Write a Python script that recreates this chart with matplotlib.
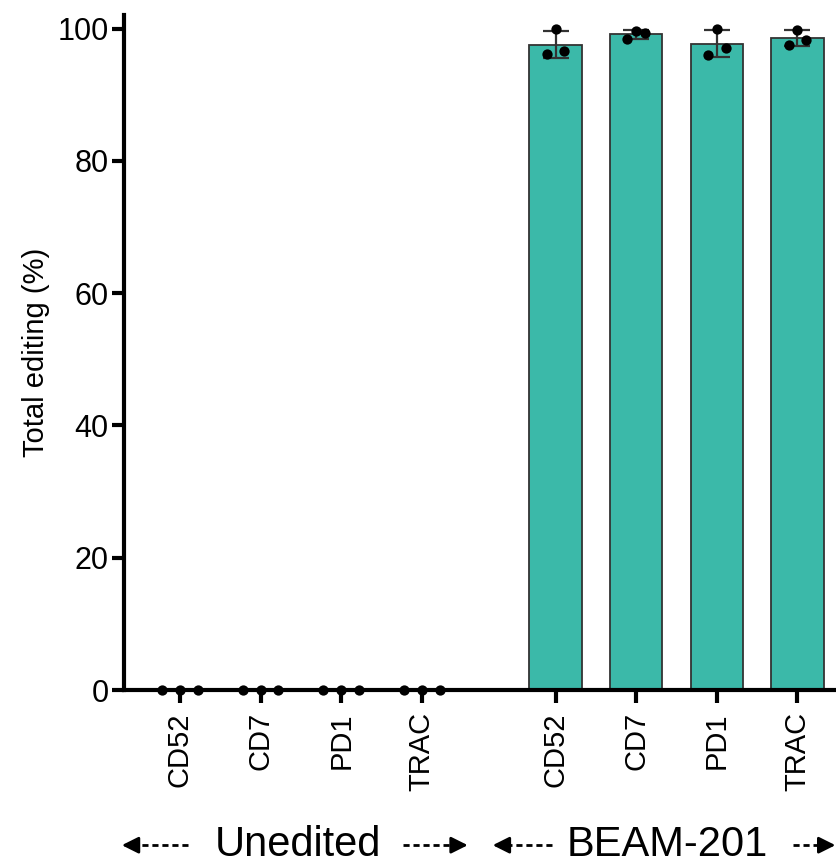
import numpy as np
import matplotlib
matplotlib.use("Agg")
import matplotlib.pyplot as plt

plt.rcParams["font.family"] = ["Liberation Sans", "DejaVu Sans"]

# data
genes = ["CD52", "CD7", "PD1", "TRAC"]
groups = ["Unedited", "BEAM-201"]
unedited = [[0, 0, 0], [0, 0, 0], [0, 0, 0], [0, 0, 0]]
beam201 = [[96.2, 99.95, 96.6], [98.4, 99.6, 99.4], [96.0, 100.0, 97.1], [97.5, 99.85, 98.3]]

bar_color = "#3BB9A9"
edge = "#333333"

gap = 1.66
x_un = np.arange(4)
x_beam = np.arange(4) + 3 + gap

fig = plt.figure(figsize=(8.37, 8.65), dpi=100)
ax = fig.add_axes([0.148, 0.2023, 0.852, 0.780])

def draw_group(ax, xs, vals, spread):
    for x, v in zip(xs, vals):
        v = np.array(v)
        m = v.mean()
        sd = v.std(ddof=1)
        if m > 0:
            ax.bar(x, m, width=0.65, color=bar_color, edgecolor=edge, linewidth=1.3, zorder=2)
            ax.errorbar(x, m, yerr=sd, fmt="none", ecolor=edge, elinewidth=1.6,
                        capsize=9.5, capthick=1.6, zorder=3)
        ax.scatter(x + np.array([-spread, 0, spread]), v, s=55, color="black",
                   zorder=5, clip_on=False, linewidths=0)

draw_group(ax, x_un, unedited, 0.22)
draw_group(ax, x_beam, beam201, 0.11)

ax.set_xlim(-0.695, 8.15)
ax.set_ylim(0, 102)
ax.set_yticks([0, 20, 40, 60, 80, 100])
ax.set_xticks(np.concatenate([x_un, x_beam]))
ax.set_xticklabels(genes + genes, rotation=90)

for s in ["top", "right"]:
    ax.spines[s].set_visible(False)
for s in ["left", "bottom"]:
    ax.spines[s].set_linewidth(3)
ax.tick_params(axis="both", width=3, length=9)
ax.tick_params(axis="x", pad=7, labelsize=21)
ax.tick_params(axis="y", pad=2, labelsize=22)
ax.set_ylabel("Total editing (%)", fontsize=21, labelpad=5)

# group labels with dashed arrows
tr = ax.get_xaxis_transform()
ylev = -0.23

def dashed_arrow(x0, x1):
    # x0: tail, x1: tip
    d = x1 - x0
    head = 0.17 * np.sign(d)
    ax.plot([x0, x1 - head], [ylev, ylev], transform=tr, color="black",
            lw=2, ls=(0, (2.2, 1.4)), clip_on=False)
    ax.annotate("", xy=(x1, ylev), xytext=(x1 - head, ylev),
                xycoords=tr, textcoords=tr,
                arrowprops=dict(arrowstyle="-|>,head_length=1.0,head_width=0.5",
                                color="black", lw=2, shrinkA=0, shrinkB=0))

dashed_arrow(0.10, -0.72)
dashed_arrow(2.77, 3.57)
dashed_arrow(4.62, 3.88)
dashed_arrow(7.61, 8.13)

ax.text(1.46, ylev, groups[0], transform=tr, ha="center", va="center", fontsize=30)
ax.text(6.04, ylev, groups[1], transform=tr, ha="center", va="center", fontsize=30)

fig.savefig("out.png", dpi=100)
